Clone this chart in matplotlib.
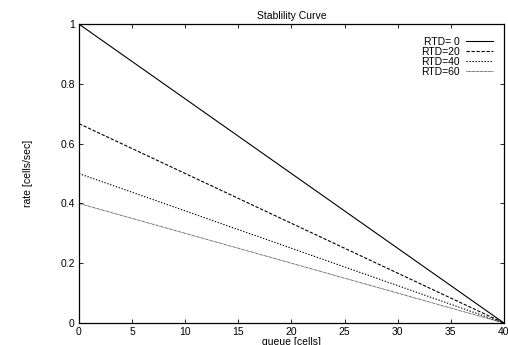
import matplotlib
matplotlib.use("Agg")
import matplotlib.pyplot as plt

plt.rcParams['font.family'] = ['Liberation Sans', 'DejaVu Sans']

# end points of each stability line (queue, rate)
queue = [0, 40]
rtd_labels = ["RTD= 0", "RTD=20", "RTD=40", "RTD=60"]
rate_rtd0 = [1.0, 0.0]
rate_rtd20 = [0.667, 0.0]
rate_rtd40 = [0.5, 0.0]
rate_rtd60 = [0.4, 0.0]

xticks = [0, 5, 10, 15, 20, 25, 30, 35, 40]
yticks = [0, 0.2, 0.4, 0.6, 0.8, 1]

fs = 7.5

fig = plt.figure(figsize=(5.08, 3.45), dpi=100)
ax = fig.add_axes([0.1555, 0.0638, 0.8365, 0.8662])

styles = [
    dict(linestyle="-", linewidth=0.8),
    dict(linestyle=(0, (3, 1.5)), linewidth=0.8),
    dict(linestyle=(0, (1.2, 1.5)), linewidth=0.8),
    dict(linestyle=(0, (0.8, 0.8)), linewidth=0.6),
]
series = [rate_rtd0, rate_rtd20, rate_rtd40, rate_rtd60]
for vals, lab, st in zip(series, rtd_labels, styles):
    ax.plot(queue, vals, color="black", label=lab, **st)

ax.set_xlim(0, 40)
ax.set_ylim(0, 1)
ax.set_xticks(xticks)
ax.set_yticks(yticks)
ax.set_yticklabels(["0", "0.2", "0.4", "0.6", "0.8", "1"])
ax.tick_params(direction="in", top=True, right=True, labelsize=fs,
               length=3, width=0.6, pad=3)
for sp in ax.spines.values():
    sp.set_linewidth(0.9)

ax.set_title("Stablility Curve", fontsize=fs, pad=4)
ax.set_xlabel("queue [cells]", fontsize=fs, labelpad=0)
ax.set_ylabel("rate [cells/sec]", fontsize=fs, labelpad=20)

ax.legend(loc="upper right", frameon=False, markerfirst=False, fontsize=fs,
          handlelength=2.6, handletextpad=0.6, labelspacing=0.0,
          borderaxespad=0.4, bbox_to_anchor=(0.995, 0.985))

fig.savefig("out.png", dpi=100)
